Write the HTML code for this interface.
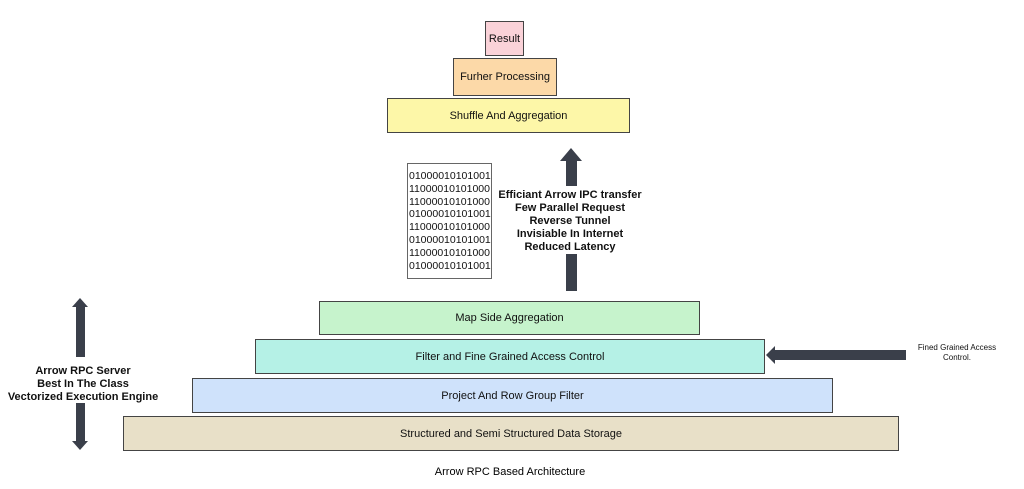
<!DOCTYPE html>
<html><head><meta charset="utf-8"><style>
body{margin:0;width:1024px;height:489px;background:#fff;position:relative;font-family:"Liberation Sans",sans-serif;overflow:hidden}
.b{position:absolute;border:1px solid #444;box-sizing:border-box;display:flex;align-items:center;justify-content:center;font-size:11px;color:#111}
.t{position:absolute;text-align:center;font-weight:bold;font-size:11px;line-height:13px;color:#111}
</style></head><body>
<div class="b" style="left:485px;top:21px;width:39px;height:35px;background:#fad2d8">Result</div>
<div class="b" style="left:453px;top:58px;width:104px;height:38px;background:#fcd9a8">Furher Processing</div>
<div class="b" style="left:387px;top:98px;width:243px;height:35px;background:#fdf7a8">Shuffle And Aggregation</div>
<div class="b" style="left:407px;top:163px;width:85px;height:116px;font-size:10.5px;line-height:12.8px;align-items:flex-start;justify-content:flex-start;padding:6px 0 0 1px;border-color:#666">01000010101001<br>11000010101000<br>11000010101000<br>01000010101001<br>11000010101000<br>01000010101001<br>11000010101000<br>01000010101001</div>
<svg style="position:absolute;left:0;top:0" width="1024" height="489">
<g fill="#3a3f4a">
<polygon points="571,148 582,161 577,161 577,186 566,186 566,161 560,161"/>
<rect x="566" y="254" width="11" height="37"/>
<polygon points="80,298 88,307 85,307 85,357 76,357 76,307 72,307"/>
<polygon points="80,450 88,441 85,441 85,403 76,403 76,441 72,441"/>
<polygon points="766,355 775,346 775,350 906,350 906,360 775,360 775,364"/>
</g></svg>
<div class="t" style="left:470px;top:189px;width:200px">Efficiant Arrow IPC transfer<br>Few Parallel Request<br>Reverse Tunnel<br>Invisiable In Internet<br>Reduced Latency</div>
<div class="t" style="left:0;top:365px;width:166px">Arrow RPC Server<br>Best In The Class<br>Vectorized Execution Engine</div>
<div class="t" style="left:900px;top:343px;width:114px;font-weight:normal;font-size:8px;line-height:10px">Fined Grained Access<br>Control.</div>
<div class="b" style="left:319px;top:301px;width:381px;height:34px;background:#c6f3cc">Map Side Aggregation</div>
<div class="b" style="left:255px;top:339px;width:510px;height:35px;background:#b5f1e6">Filter and Fine Grained Access Control</div>
<div class="b" style="left:192px;top:378px;width:641px;height:35px;background:#cfe2fb">Project And Row Group Filter</div>
<div class="b" style="left:123px;top:416px;width:776px;height:35px;background:#e8e0c8">Structured and Semi Structured Data Storage</div>
<div style="position:absolute;left:360px;top:466px;width:300px;text-align:center;font-size:11px">Arrow RPC Based Architecture</div>
</body></html>
